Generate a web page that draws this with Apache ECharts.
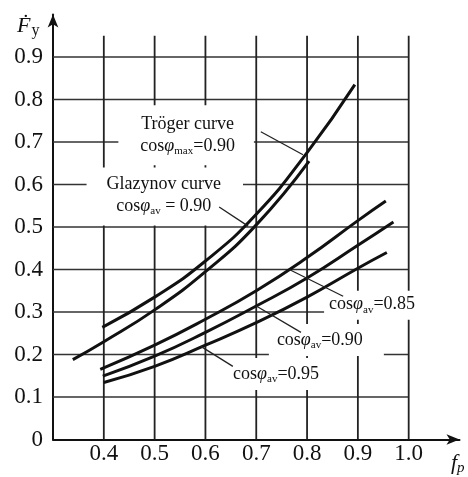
<!DOCTYPE html>
<html>
<head>
<meta charset="utf-8">
<script src="https://cdn.jsdelivr.net/npm/echarts@6/dist/echarts.min.js"></script>
<style>
html, body { margin: 0; padding: 0; background: #fff; }
#chart { width: 468px; height: 477px; }
</style>
</head>
<body>
<div id="chart"></div>
<script>
// axis ticks
const xTicks = [0.4, 0.5, 0.6, 0.7, 0.8, 0.9, 1.0];
const yTicks = [0.1, 0.2, 0.3, 0.4, 0.5, 0.6, 0.7, 0.8, 0.9];

// curves: [f_p, F_y]
const troger = [[0.397, 0.264], [0.5, 0.335], [0.6, 0.42], [0.7, 0.53], [0.8, 0.675], [0.894, 0.835]];
const glazynov = [[0.339, 0.188], [0.4, 0.23], [0.5, 0.305], [0.6, 0.395], [0.7, 0.505], [0.804, 0.655]];
const av085 = [[0.393, 0.165], [0.5, 0.222], [0.6, 0.283], [0.7, 0.35], [0.8, 0.428], [0.9, 0.515], [0.955, 0.561]];
const av090 = [[0.398, 0.149], [0.5, 0.196], [0.6, 0.252], [0.7, 0.314], [0.8, 0.38], [0.9, 0.457], [0.97, 0.512]];
const av095 = [[0.40, 0.134], [0.5, 0.172], [0.6, 0.222], [0.7, 0.275], [0.8, 0.335], [0.9, 0.403], [0.957, 0.44]];

const FONT = 'Liberation Serif';
const chart = echarts.init(document.getElementById('chart'));

function isTick(list, v) {
    return list.some(t => Math.abs(t - v) < 1e-6);
}

const gridSeries = [];
yTicks.forEach(t => gridSeries.push({
    type: 'line', data: [[0.3, t], [1.0, t]], symbol: 'none', silent: true, z: 1,
    lineStyle: {color: '#333', width: 1.6}
}));
xTicks.forEach(t => gridSeries.push({
    type: 'line', data: [[t, 0], [t, 0.95]], symbol: 'none', silent: true, z: 1,
    lineStyle: {color: '#222', width: 1.8}
}));

const curveSeries = [troger, glazynov, av085, av090, av095].map(d => ({
    type: 'line', data: d, symbol: 'none', smooth: 0.5, z: 10, silent: true,
    lineStyle: {color: '#111', width: 3}
}));

chart.setOption({
    animation: false,
    grid: {left: 53, right: 8.5, top: 14.5, bottom: 37.5},
    xAxis: {
        type: 'value', min: 0.3, max: 1.1, interval: 0.1,
        axisLine: {lineStyle: {color: '#111', width: 2}, symbol: ['none', 'arrow'], symbolSize: [8, 13]},
        axisTick: {show: false},
        splitLine: {show: false},
        axisLabel: {
            margin: 3, color: '#111', fontFamily: FONT, fontSize: 23,
            formatter: v => isTick(xTicks, v) ? v.toFixed(1) : ''
        }
    },
    yAxis: {
        type: 'value', min: 0, max: 1.0, interval: 0.1,
        axisLine: {show: true, lineStyle: {color: '#111', width: 2}, symbol: ['none', 'arrow'], symbolSize: [8, 13]},
        axisTick: {show: false},
        splitLine: {show: false},
        axisLabel: {
            margin: 10, color: '#111', fontFamily: FONT, fontSize: 23,
            formatter: v => v === 0 ? '0' : (isTick(yTicks, v) ? v.toFixed(1) : '')
        }
    },
    series: gridSeries.concat(curveSeries)
});

// annotations: label centre and leader line, in data units
const rich = {
    n: {fontFamily: FONT, fontSize: 18, fill: '#111', lineHeight: 22},
    i: {fontFamily: FONT, fontSize: 18, fontStyle: 'italic', fill: '#111', lineHeight: 22},
    s: {fontFamily: FONT, fontSize: 11, fill: '#111', padding: [10, 0, 0, 0]}
};
const notes = [
    {text: '{n|Tröger curve}\n{n|cos}{i|φ}{s|max}{n|=0.90}', at: [0.562, 0.716], pad: [8, 19, 8, 22], from: [0.709, 0.724], to: [0.792, 0.67]},
    {text: '{n|Glazynov curve}\n{n|cos}{i|φ}{s|av}{n| = 0.90}', at: [0.52, 0.572], pad: [6, 22, 8, 20], from: [0.627, 0.547], to: [0.684, 0.502]},
    {text: '{n|cos}{i|φ}{s|av}{n|=0.85}', at: [0.924, 0.316], pad: [3, 1, 4, 5], from: [0.765, 0.4], to: [0.871, 0.337]},
    {text: '{n|cos}{i|φ}{s|av}{n|=0.90}', at: [0.838, 0.234], pad: [5, 21, 5, 8], from: [0.70, 0.314], to: [0.788, 0.252]},
    {text: '{n|cos}{i|φ}{s|av}{n|=0.95}', at: [0.737, 0.154], pad: [5, 3, 5, 5], from: [0.591, 0.219], to: [0.654, 0.172]}
];

const px = p => chart.convertToPixel({gridIndex: 0}, p);
const graphics = [];
notes.forEach(nt => {
    const c = px(nt.at);
    graphics.push({
        type: 'text', z: 5, silent: true,
        style: {
            x: c[0], y: c[1], text: nt.text, rich: rich, align: 'center', verticalAlign: 'middle',
            backgroundColor: '#fff', padding: nt.pad
        }
    });
    const a = px(nt.from), b = px(nt.to);
    graphics.push({
        type: 'line', z: 20, silent: true,
        shape: {x1: a[0], y1: a[1], x2: b[0], y2: b[1]},
        style: {stroke: '#222', lineWidth: 1.3}
    });
});

// axis names
graphics.push({
    type: 'text', z: 5, silent: true,
    style: {
        x: 17, y: 26, text: '{f|Ḟ}{y|y}', align: 'left', verticalAlign: 'middle',
        rich: {
            f: {fontFamily: FONT, fontSize: 22, fontStyle: 'italic', fill: '#111'},
            y: {fontFamily: FONT, fontSize: 16, fill: '#111', padding: [10, 0, 0, 1]}
        }
    }
});
graphics.push({
    type: 'text', z: 5, silent: true,
    style: {
        x: 451, y: 463, text: '{f|f}{p|p}', align: 'left', verticalAlign: 'middle',
        rich: {
            f: {fontFamily: FONT, fontSize: 22, fontStyle: 'italic', fill: '#111'},
            p: {fontFamily: FONT, fontSize: 15, fontStyle: 'italic', fill: '#111', padding: [10, 0, 0, 0]}
        }
    }
});

chart.setOption({graphic: graphics});
</script>
</body>
</html>
